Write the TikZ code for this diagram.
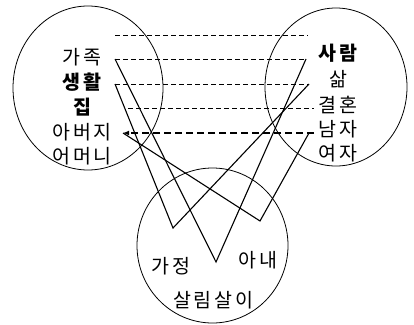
\documentclass[tikz,border=0pt]{standalone}
\usepackage{fontspec}
\setmainfont{Noto Sans CJK KR}[LetterSpace=14]
\usepackage{tikz}
\usetikzlibrary{arrows.meta,positioning}
\tikzset{
  field/.style={draw, line width=0.8pt},
  word/.style={inner sep=0pt, font=\fontsize{19.5}{22}\selectfont},
  keyword/.style={word, font=\fontsize{19.5}{22}\selectfont\bfseries},
  link/.style={line width=1.1pt},
  guide/.style={line width=0.8pt, dash pattern=on 4.5pt off 3.5pt},
  strongguide/.style={line width=1.4pt, dash pattern=on 7pt off 4pt},
  arrow/.style={-{Latex[length=6pt,width=5pt]}}
}

\begin{document}
\begin{tikzpicture}[x=1pt, y=-1pt]
  \useasboundingbox (0,0) rectangle (414,324);
  % semantic fields
  \draw[field] (88,88) ellipse [x radius=75, y radius=82];
  \draw[field] (336,87) ellipse [x radius=71, y radius=79];
  \draw[field] (212.5,245.5) ellipse [x radius=75.5, y radius=77.5];
  % left field
  \node[word] (gajok) at (82,57) {가족};
  \node[keyword] (saenghwal) at (82,82) {생활};
  \node[keyword] (jip) at (82,107) {집};
  \node[word] (abeoji) at (82,132) {아버지};
  \node[word] (eomeoni) at (82,156) {어머니};
  % right field
  \node[keyword] (saram) at (338,53) {사람};
  \node[word] (sam) at (338,79) {삶};
  \node[word] (gyeolhon) at (338,105) {결혼};
  \node[word] (namja) at (338,129) {남자};
  \node[word] (yeoja) at (338,153) {여자};
  % lower field
  \node[word] (gajeong) at (171,266) {가정};
  \node[word] (anae) at (258,260) {아내};
  \node[word] (sallim) at (213,300) {살림살이};
  % row ends
  \coordinate (l0) at (115,35);  \coordinate (r0) at (308,35);
  \coordinate (l1) at (115,59);  \coordinate (r1) at (306,59);
  \coordinate (l2) at (115,84);  \coordinate (r2) at (309,84);
  \coordinate (l3) at (128,108); \coordinate (r3) at (314,108);
  \coordinate (l4) at (123,133); \coordinate (r4) at (314,133);
  \coordinate (r4a) at (309,133);
  % turning points
  \coordinate (v1) at (173,228);
  \coordinate (v2) at (216,262);
  \coordinate (v3) at (260,221);
  \draw[guide] (l0) -- (r0);
  \draw[guide] (l1) -- (r1);
  \draw[guide] (l2) -- (r2);
  \draw[guide] (l3) -- (r3);
  \draw[strongguide, arrow] (r4) -- (l4);
  \draw[link] (l1) -- (v2) -- (r1);
  \draw[link] (l2) -- (v1) -- (r2);
  \draw[link] (l4) -- (v3) -- (r4a);
\end{tikzpicture}
\end{document}
